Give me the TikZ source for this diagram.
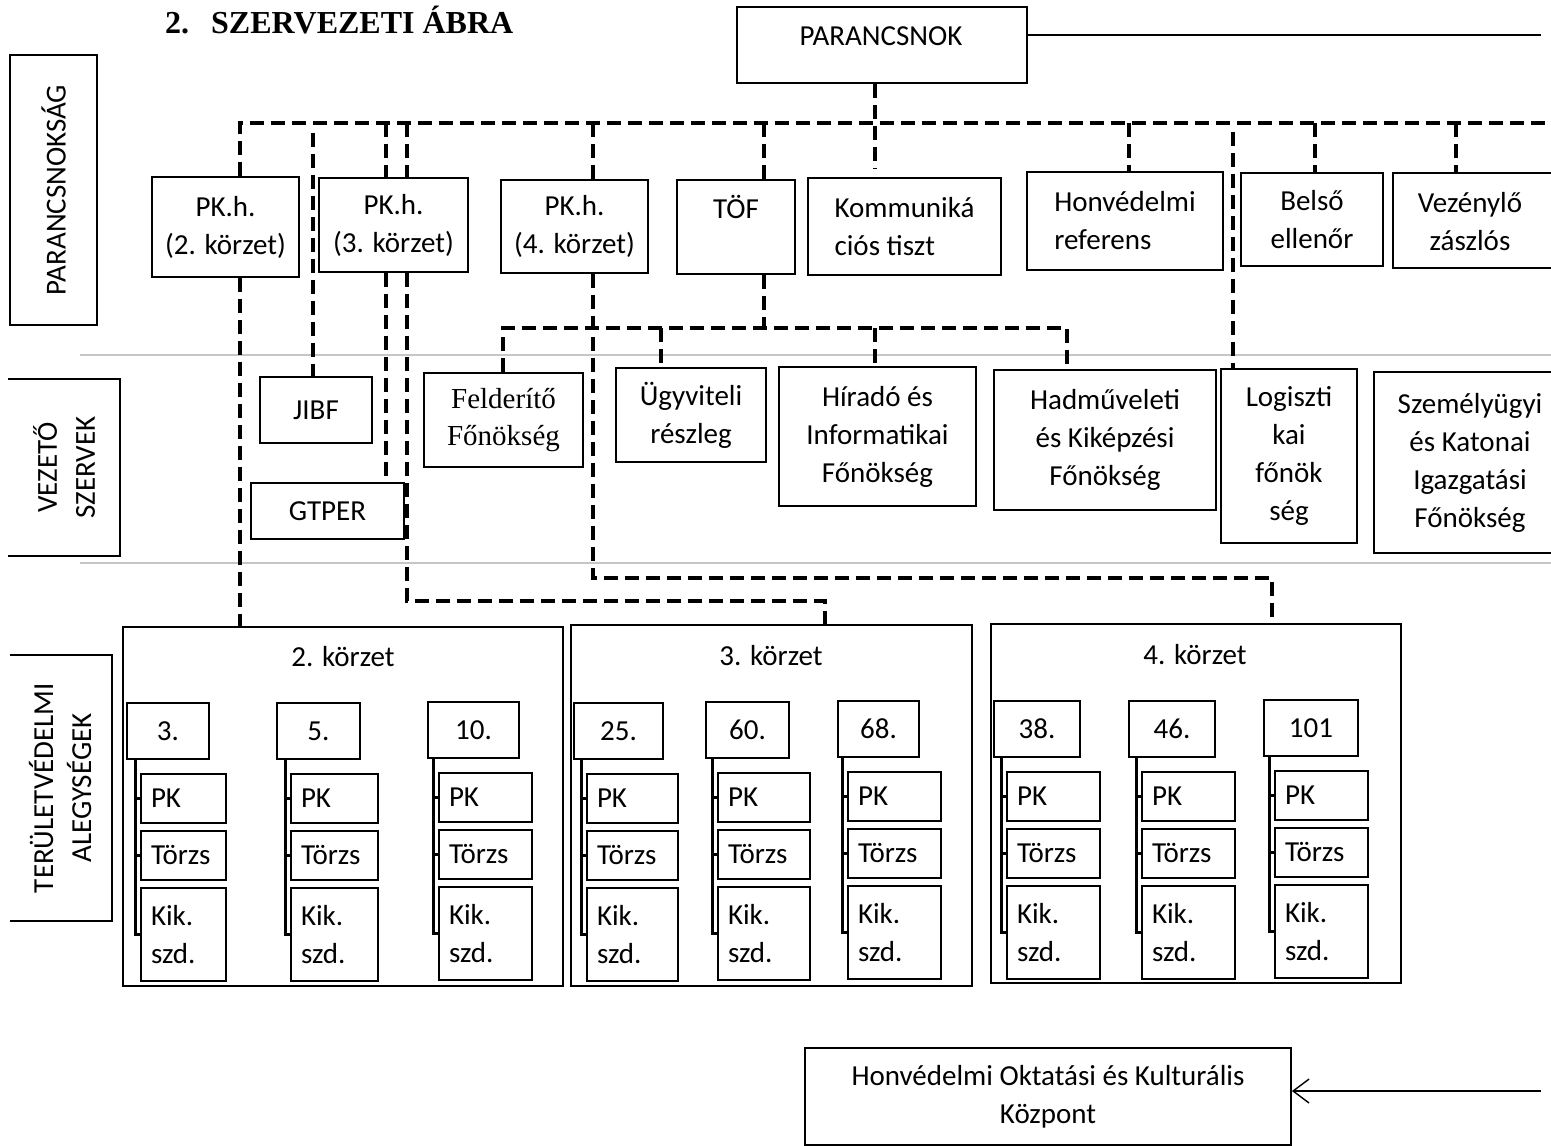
\documentclass[tikz,border=0pt]{standalone}
\usepackage{fontspec}
\setmainfont{Carlito}
\newfontfamily\serifT{Liberation Serif}
\usetikzlibrary{arrows.meta,calc}
\newcommand\unitblk[7]{%
  \pgfmathsetmacro\uhc{#2+#3/2}%
  \pgfmathsetmacro\usc{#4+#5/2}%
  \pgfmathsetmacro\utw{#5-20}%
  \pgfmathsetmacro\uvx{#4-5.5}%
  \node[box, minimum width=#3, minimum height=56] (#1h) at (\uhc,{731+(#7)}) {#6};
  \node[sbox, minimum width=#5, minimum height=49, text width=\utw pt] (#1p) at (\usc,{798.5+(#7)}) {PK};
  \node[sbox, minimum width=#5, minimum height=49, text width=\utw pt] (#1t) at (\usc,{855.5+(#7)}) {Törzs};
  \node[sbox, minimum width=#5, minimum height=93, text width=\utw pt] (#1k) at (\usc,{934.5+(#7)}) {Kik.\\szd.};
  \coordinate (#1v) at (\uvx,{759+(#7)});
  \draw[brk] (#1v) |- (#1k.west);
  \draw[brk] (#1v |- #1p.west) -- (#1p.west);
  \draw[brk] (#1v |- #1t.west) -- (#1t.west);
}
\begin{document}
\begin{tikzpicture}[x=1pt,y=-1pt,
  every node/.style={font=\fontsize{29}{38}\selectfont},
  box/.style={draw, line width=1.8pt, align=center, inner sep=0pt},
  lbox/.style={box, align=left},
  sbox/.style={draw, line width=1.8pt, align=left, inner xsep=10pt, inner ysep=0pt},
  txt/.style={inner sep=0pt, anchor=base},
  dsh/.style={line width=3.6pt, dash pattern=on 14pt off 7pt},
  sepln/.style={gray!45, line width=2.4pt},
  frame/.style={line width=1.8pt},
  brk/.style={line width=2.4pt},
  thinln/.style={line width=1.4pt},
  ]
\useasboundingbox (0,0) rectangle (1551,1146);
\clip (0,0) rectangle (1551,1146);

% separators
\coordinate (s1L) at (80,355); \coordinate (s1R) at (1551,355);
\coordinate (s2L) at (80,563); \coordinate (s2R) at (1551,563);
\draw[sepln] (s1L) -- (s1R);
\draw[sepln] (s2L) -- (s2R);

% title
\node[inner sep=0pt, anchor=base west, font=\serifT\bfseries\fontsize{32}{36}\selectfont] (title) at (165,33) {2.\hspace{22pt}SZERVEZETI ÁBRA};

% left labels
\node[box, rotate=90, minimum width=270, minimum height=87] (lab1) at (53.5,190) {PARANCSNOKSÁG};
\node[rotate=90, align=center, inner sep=0pt] (lab2) at (64,467.5) {VEZETŐ\\SZERVEK};
\draw[frame] (8,379) -| (120,556) -- (8,556);
\node[rotate=90, align=center, inner sep=0pt] (lab3) at (60,788) {TERÜLETVÉDELMI\\ALEGYSÉGEK};
\draw[frame] (10,655) -| (112,921) -- (10,921);

% commander
\node[box, minimum width=290, minimum height=76] (cmd) at (882,45) {};
\node[txt] (cmdT) at (881,45) {PARANCSNOK};
\coordinate (cmdE) at (1541,35);
\draw[thinln] (cmdE -| cmd.east) -- (cmdE);

% row 1
\node[box, minimum width=147, minimum height=100] (pk2) at (225.5,227) {PK.h.\\(2. körzet)};
\node[box, minimum width=149, minimum height=94] (pk3) at (393.5,225) {PK.h.\\(3. körzet)};
\node[box, minimum width=147, minimum height=93] (pk4) at (574.5,226.5) {PK.h.\\(4. körzet)};
\node[box, minimum width=118, minimum height=94] (tof) at (736,227) {};
\node[txt] (tofT) at (736,218) {TÖF};
\node[lbox, minimum width=193, minimum height=97] (komm) at (904.5,226.5) {Kommuniká\\ciós tiszt};
\node[lbox, minimum width=196, minimum height=98] (honv) at (1125,221) {Honvédelmi\\referens};
\node[box, minimum width=142, minimum height=93] (belso) at (1312,219.5) {Belső\\ellenőr};
\node[box, minimum width=167, minimum height=95] (vez) at (1476.5,220.5) {};
\node[align=center, inner sep=0pt] (vezT) at (1470,222) {Vezénylő\\zászlós};

% row 2
\node[box, minimum width=112, minimum height=66] (jibf) at (316,410) {JIBF};
\node[box, minimum width=153, minimum height=56] (gtper) at (327.5,511) {GTPER};
\node[box, minimum width=159, minimum height=94, font=\serifT\fontsize{29}{37}\selectfont] (feld) at (503.5,420) {Felderítő\\Főnökség};
\node[box, minimum width=150, minimum height=94] (ugy) at (691,415) {Ügyviteli\\részleg};
\node[box, minimum width=197, minimum height=139] (hir) at (877.5,436.5) {Híradó és\\Informatikai\\Főnökség};
\node[box, minimum width=222, minimum height=140] (had) at (1105,440) {Hadműveleti\\és Kiképzési\\Főnökség};
\node[box, minimum width=136, minimum height=174] (logi) at (1289,456) {Logiszti\\kai\\főnök\\ség};
\node[box, minimum width=192, minimum height=181] (szem) at (1470,462.5) {Személyügyi\\és Katonai\\Igazgatási\\Főnökség};

% main bus
\coordinate (busL) at (240,123);
\coordinate (busR) at (1551,123);
\draw[dsh] (busL |- pk2.north) -- (busL) -- (busR);
\coordinate (x3a) at (386,123);
\coordinate (x3b) at (407,123);
\coordinate (xj) at (313,133);
\coordinate (x4) at (593,123);
\coordinate (xt) at (764,123);
\coordinate (xc) at (875,123);
\coordinate (xh) at (1129,123);
\coordinate (xl) at (1233,132);
\coordinate (xb) at (1315,123);
\coordinate (xv) at (1456,123);
\draw[dsh] (x3a) -- (x3a |- pk3.north);
\draw[dsh] (x3b) -- (x3b |- pk3.north);
\draw[dsh] (xj) -- (xj |- jibf.north);
\draw[dsh] (x4) -- (x4 |- pk4.north);
\draw[dsh] (xt) -- (xt |- tof.north);
\draw[dsh, shorten >=9pt] (xc |- cmd.south) -- (xc |- komm.north);
\draw[dsh] (xh) -- (xh |- honv.north);
\draw[dsh] (xl) -- (xl |- logi.north);
\draw[dsh] (xb) -- (xb |- belso.north);
\draw[dsh] (xv) -- (xv |- vez.north);

% TOF bus
\coordinate (tbL) at (503,328);
\coordinate (tbR) at (1067,328);
\coordinate (xu) at (661,328);
\coordinate (xhi) at (875,328);
\draw[dsh] (xt |- tof.south) -- (xt |- tbL);
\draw[dsh] (tbL |- feld.north) -- (tbL) -- (tbR) -- (tbR |- had.north);
\draw[dsh] (xu) -- (xu |- ugy.north);
\draw[dsh] (xhi) -- (xhi |- hir.north);

% districts
\node[draw, line width=1.8pt, minimum width=440, minimum height=359, inner sep=0pt] (k2) at (343,806.5) {};
\node[draw, line width=1.8pt, minimum width=401, minimum height=361, inner sep=0pt] (k3) at (771.5,805.5) {};
\node[draw, line width=1.8pt, minimum width=410, minimum height=359, inner sep=0pt] (k4) at (1196,803.5) {};
\node[txt] (k2T) at (343,666) {2. körzet};
\node[txt] (k3T) at (771,665) {3. körzet};
\node[txt] (k4T) at (1195,664) {4. körzet};

% district connectors
\draw[dsh] (busL |- pk2.south) -- (busL |- k2.north);
\draw[dsh] (x3a |- pk3.south) -- (x3a |- gtper.north);
\coordinate (t3) at (825,601);
\draw[dsh] (x3b |- pk3.south) |- (t3) -- (t3 |- k3.north);
\coordinate (t4) at (1272,578);
\draw[dsh] (x4 |- pk4.south) |- (t4) -- (t4 |- k4.north);

% units
\unitblk{ua}{127}{82}{141}{85}{3.}{0}
\unitblk{ub}{277}{83}{291}{87}{5.}{0}
\unitblk{uc}{428}{91}{439}{93}{10.}{-1}
\unitblk{ud}{574}{89}{587}{91}{25.}{0}
\unitblk{ue}{706}{83}{718}{92}{60.}{-1}
\unitblk{uf}{838}{81}{848}{93}{68.}{-2}
\unitblk{ug}{994}{86}{1007}{93}{38.}{-2}
\unitblk{uh}{1129}{86}{1142}{93}{46.}{-2}
\unitblk{ui}{1264}{94}{1275}{93}{101}{-3}

% bottom
\node[box, minimum width=486, minimum height=97] (hokk) at (1048,1096.5) {Honvédelmi Oktatási és Kulturális\\Központ};
\coordinate (arrS) at (1541,1091);
\draw[thinln, -{Straight Barb[length=16pt,width=24pt,line width=1.4pt]}] (arrS) -- (arrS -| hokk.east);
\end{tikzpicture}
\end{document}
